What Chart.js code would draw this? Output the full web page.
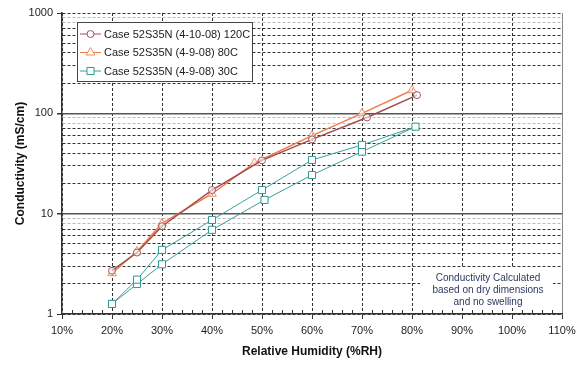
<!DOCTYPE html>
<html>
<head>
<meta charset="utf-8">
<script src="https://cdn.jsdelivr.net/npm/chart.js@4.4.0/dist/chart.umd.min.js"></script>
<style>
  html, body { margin: 0; padding: 0; background: #fff; }
  #wrap { width: 576px; height: 365px; position: relative; }
</style>
</head>
<body>
<div id="wrap"><canvas id="c" width="576" height="365"></canvas></div>
<script>
// ---- data ----
const seriesLabels = ['Case 52S35N (4-10-08) 120C', 'Case 52S35N (4-9-08) 80C', 'Case 52S35N (4-9-08) 30C'];

const rh120 = [20, 25, 30, 40, 50, 60, 71, 81];
const cond120 = [2.7, 4.1, 7.5, 17.2, 34, 55, 91, 152];

const rh80 = [20, 25, 30, 40, 48.5, 60, 70, 80];
const cond80 = [2.55, 4.2, 8.0, 15.8, 32, 60, 100, 170];

const rh30 = [20, 25, 30, 40, 50.5, 60, 70, 80.7, 70, 60, 50, 40, 30, 25, 20];
const cond30 = [1.26, 1.99, 3.13, 6.9, 13.7, 24.3, 41.5, 73.6, 48.4, 34.3, 17.2, 8.65, 4.35, 2.2, 1.26];

const xTickValues = [10, 20, 30, 40, 50, 60, 70, 80, 90, 100, 110];
const yDecades = [1, 10, 100];
const yMultipliers = [1, 2, 3, 4, 5, 6, 7, 8, 9];
const yTickLabels = ['1', '10', '100', '1000'];

const noteLines = ['Conductivity Calculated', 'based on dry dimensions', 'and no swelling'];

// ---- helpers ----
function pts(xs, ys) { return xs.map((x, i) => ({ x: x, y: ys[i] })); }
const yTickValues = [];
yDecades.forEach(d => yMultipliers.forEach(m => yTickValues.push(d * m)));
yTickValues.push(1000);

const FONT = '"Liberation Sans", Arial, sans-serif';

const legendPlugin = {
  id: 'boxLegend',
  afterDraw(chart) {
    const ctx = chart.ctx, a = chart.chartArea;
    // note box
    ctx.save();
    ctx.fillStyle = '#fff';
    ctx.fillRect(a.right - 142, a.bottom - 46, 133, 40);
    ctx.fillStyle = '#2b3a63';
    ctx.font = '10px ' + FONT;
    ctx.textAlign = 'center';
    ctx.textBaseline = 'middle';
    noteLines.forEach((t, i) => ctx.fillText(t, a.right - 74, a.bottom - 36 + i * 12));
    ctx.restore();

    // legend box
    const x0 = a.left + 15, y0 = a.top + 9, w = 175, h = 59;
    ctx.save();
    ctx.fillStyle = '#fff';
    ctx.fillRect(x0, y0, w, h);
    ctx.strokeStyle = '#444';
    ctx.lineWidth = 1;
    ctx.strokeRect(x0 + 0.5, y0 + 0.5, w, h);
    chart.data.datasets.forEach((ds, i) => {
      const cy = y0 + 12 + i * 18.5;
      ctx.setLineDash([]);
      ctx.strokeStyle = ds.borderColor;
      ctx.lineWidth = 1;
      ctx.beginPath();
      ctx.moveTo(x0 + 3, cy);
      ctx.lineTo(x0 + 24, cy);
      ctx.stroke();
      ctx.fillStyle = '#fff';
      ctx.strokeStyle = ds.pointBorderColor;
      Chart.helpers.drawPoint(ctx, { pointStyle: ds.pointStyle, radius: ds.pointRadius, borderWidth: 1, rotation: 0 }, x0 + 13.5, cy);
      ctx.fillStyle = '#222';
      ctx.font = '11px ' + FONT;
      ctx.textAlign = 'left';
      ctx.textBaseline = 'middle';
      ctx.fillText(ds.label, x0 + 27, cy + 0.5);
    });
    ctx.restore();
  },
  beforeDatasetsDraw(chart) {
    // minor x ticks every 2%
    const ctx = chart.ctx, xs = chart.scales.x, a = chart.chartArea;
    ctx.save();
    ctx.strokeStyle = '#333';
    ctx.lineWidth = 1;
    for (let v = xs.min; v <= xs.max; v += 2) {
      if (v % 10 === 0) continue;
      const px = Math.round(xs.getPixelForValue(v)) + 0.5;
      ctx.beginPath();
      ctx.moveTo(px, a.bottom);
      ctx.lineTo(px, a.bottom - 4);
      ctx.stroke();
    }
    ctx.restore();
  }
};

const isMajorY = v => v === 10 || v === 100;

new Chart(document.getElementById('c'), {
  type: 'scatter',
  data: {
    datasets: [
      {
        label: seriesLabels[0],
        data: pts(rh120, cond120),
        showLine: true,
        borderColor: '#9c4e50',
        borderWidth: 1.5,
        pointStyle: 'circle',
        pointRadius: 3.5,
        pointBorderColor: '#9c5a5c',
        pointBackgroundColor: 'rgba(255,255,255,0.6)',
        pointBorderWidth: 1,
        tension: 0
      },
      {
        label: seriesLabels[1],
        data: pts(rh80, cond80),
        showLine: true,
        borderColor: '#f27a4c',
        borderWidth: 1.5,
        pointStyle: 'triangle',
        pointRadius: 5,
        pointBorderColor: '#f58a63',
        pointBackgroundColor: 'rgba(255,255,255,0.6)',
        pointBorderWidth: 1,
        tension: 0
      },
      {
        label: seriesLabels[2],
        data: pts(rh30, cond30),
        showLine: true,
        borderColor: '#3e9e9a',
        borderWidth: 1,
        pointStyle: 'rect',
        pointRadius: 5,
        pointBorderColor: '#2f9893',
        pointBackgroundColor: '#fff',
        pointBorderWidth: 1,
        tension: 0
      }
    ]
  },
  options: {
    responsive: false,
    animation: false,
    devicePixelRatio: 1,
    layout: { padding: { top: 13, right: 14, left: 0, bottom: 0 } },
    plugins: { legend: { display: false }, tooltip: { enabled: false } },
    scales: {
      x: {
        type: 'linear',
        min: 10,
        max: 110,
        afterBuildTicks: s => { s.ticks = xTickValues.map(v => ({ value: v })); },
        afterFit: s => { s.height = 51; s.paddingLeft = 0; s.paddingRight = 0; },
        ticks: {
          callback: v => v + '%',
          color: '#222',
          font: { family: FONT, size: 11 },
          padding: 5,
          maxRotation: 0,
          autoSkip: false
        },
        grid: {
          color: c => (c.tick && c.tick.value === 110) ? '#888' : '#333',
          lineWidth: 1,
          tickLength: 5,
          tickColor: '#333'
        },
        border: {
          display: true,
          color: '#333',
          width: 1.5,
          dash: c => (c.tick && c.tick.value !== 110) ? [3, 2] : []
        },
        title: {
          display: true,
          text: 'Relative Humidity (%RH)',
          color: '#111',
          font: { family: FONT, size: 12, weight: 'bold' },
          padding: { top: 0, bottom: 6 }
        }
      },
      y: {
        type: 'logarithmic',
        min: 1,
        max: 1000,
        afterBuildTicks: s => { s.ticks = yTickValues.map(v => ({ value: v })); },
        afterFit: s => { s.width = 62; s.paddingTop = 0; s.paddingBottom = 0; },
        ticks: {
          callback: v => (yTickLabels.indexOf(String(v)) >= 0 ? String(v) : ''),
          color: '#222',
          font: { family: FONT, size: 11 },
          padding: 4,
          autoSkip: false
        },
        grid: {
          color: c => {
            const v = c.tick ? c.tick.value : 0;
            if (isMajorY(v)) return '#555';
            if (v % 9 === 0 && (v === 9 || v === 90 || v === 900) || v === 8 || v === 80 || v === 800) return '#bbb';
            return '#333';
          },
          lineWidth: c => (c.tick && isMajorY(c.tick.value)) ? 1.5 : 1,
          tickLength: 5,
          tickColor: c => (c.tick && yTickLabels.indexOf(String(c.tick.value)) >= 0) ? '#333' : 'rgba(0,0,0,0)'
        },
        border: {
          display: true,
          color: '#333',
          width: 1.5,
          dash: c => (c.tick && !isMajorY(c.tick.value)) ? [3, 2] : []
        },
        title: {
          display: true,
          text: 'Conductivity (mS/cm)',
          color: '#111',
          font: { family: FONT, size: 12, weight: 'bold' },
          padding: { top: 13, bottom: 0 }
        }
      }
    }
  },
  plugins: [legendPlugin]
});
</script>
</body>
</html>
